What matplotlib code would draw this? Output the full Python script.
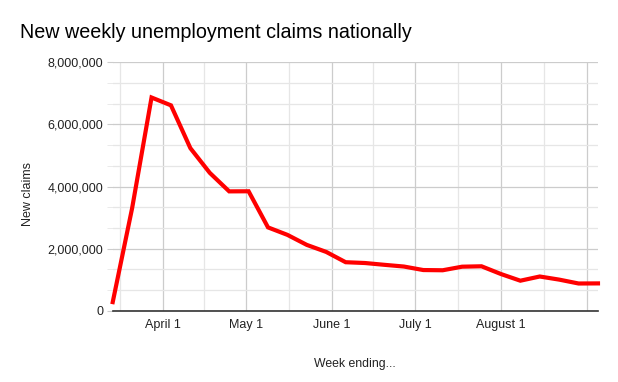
import datetime as dt
import matplotlib
matplotlib.use("Agg")
import matplotlib.pyplot as plt
import matplotlib.dates as mdates
from matplotlib.ticker import FuncFormatter, MultipleLocator, FixedLocator

plt.rcParams['font.family'] = ['Liberation Sans', 'DejaVu Sans']

# week ending dates (Saturdays) and new claims
weeks = ["2020-03-14", "2020-03-21", "2020-03-28", "2020-04-04", "2020-04-11",
         "2020-04-18", "2020-04-25", "2020-05-02", "2020-05-09", "2020-05-16",
         "2020-05-23", "2020-05-30", "2020-06-06", "2020-06-13", "2020-06-20",
         "2020-06-27", "2020-07-04", "2020-07-11", "2020-07-18", "2020-07-25",
         "2020-08-01", "2020-08-08", "2020-08-15", "2020-08-22", "2020-08-29",
         "2020-09-05"]
claims = [282000, 3307000, 6867000, 6615000, 5237000,
          4442000, 3846000, 3849000, 2687000, 2446000,
          2123000, 1897000, 1566000, 1540000, 1482000,
          1427000, 1314000, 1307000, 1422000, 1435000,
          1186000, 971000, 1106000, 1006000, 881000,
          884000]
month_labels = ["April 1", "May 1", "June 1", "July 1", "August 1", ""]

dates = [dt.datetime.strptime(w, "%Y-%m-%d") for w in weeks]

fig = plt.figure(figsize=(6.18, 3.82), dpi=100)
ax = fig.add_axes([0.1824, 0.1862, 0.7852, 0.6507])

ax.plot(dates, claims, color="#ff0000", lw=3, solid_joinstyle="miter", zorder=3, clip_on=False)

ax.set_xlim(dates[0], dates[-1])
ax.set_ylim(0, 8000000)

# month gridlines and mid-month minor lines
months = [dt.datetime(2020, m, 1) for m in range(3, 10)]
major = [mdates.date2num(d) for d in months[1:]]
mnums = [mdates.date2num(d) for d in months]
minor = [(a + b) / 2 for a, b in zip(mnums[:-1], mnums[1:])]
ax.xaxis.set_major_locator(FixedLocator(major))
ax.xaxis.set_minor_locator(FixedLocator(minor))
ax.set_xticklabels(month_labels)

ax.yaxis.set_major_locator(MultipleLocator(2000000))
ax.yaxis.set_minor_locator(MultipleLocator(2000000 / 3))
ax.yaxis.set_major_formatter(FuncFormatter(lambda v, p: f"{int(v):,}"))

ax.grid(which="major", color="#cccccc", lw=0.9)
ax.grid(which="minor", color="#e6e6e6", lw=0.9)
ax.set_axisbelow(True)

for s in ["top", "right", "left"]:
    ax.spines[s].set_visible(False)
ax.spines["bottom"].set_color("#333333")
ax.spines["bottom"].set_linewidth(1.2)

ax.tick_params(axis="x", which="both", length=0, pad=6, labelsize=9, labelcolor="#222222")
ax.tick_params(axis="y", which="major", length=4, color="#cccccc", pad=3, labelsize=9, labelcolor="#222222")
ax.tick_params(axis="y", which="minor", length=4, color="#e6e6e6")

ax.set_xlabel("Week ending...", fontsize=8.8, color="#222222", labelpad=19)
ax.set_ylabel("New claims", fontsize=9, color="#222222")
ax.yaxis.set_label_coords(-0.163, 0.47)

fig.text(0.032, 0.9, "New weekly unemployment claims nationally", fontsize=14.2, color="#000000")

fig.savefig("out.png", dpi=100)
